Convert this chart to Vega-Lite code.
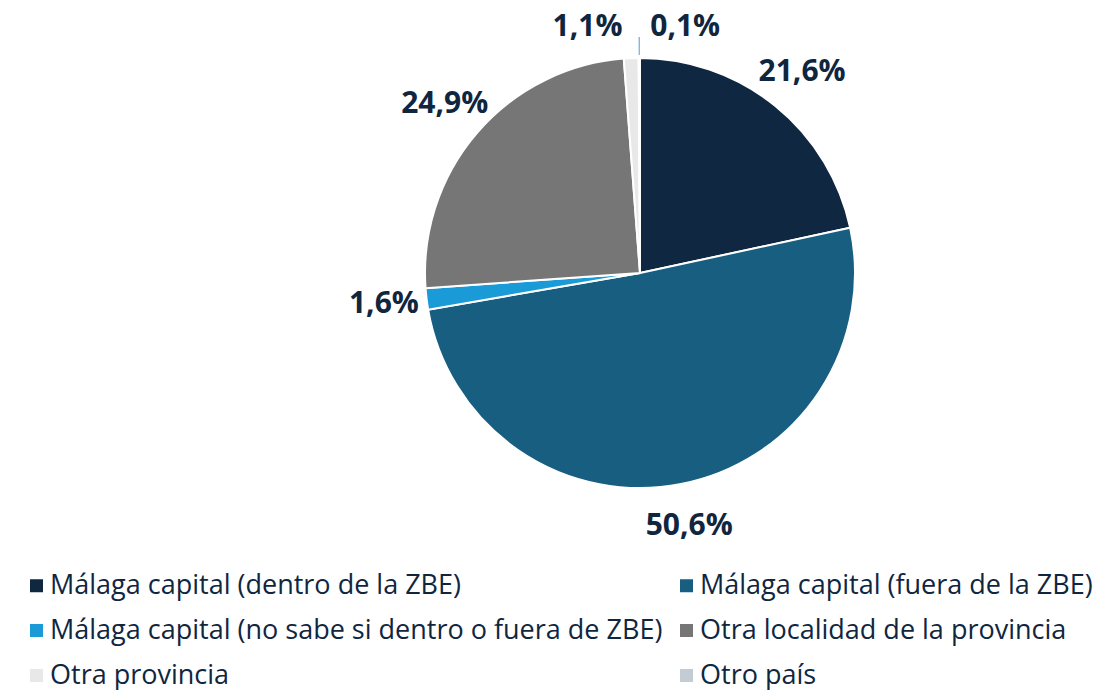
{
  "$schema": "https://vega.github.io/schema/vega-lite/v6.json",
  "width": 946,
  "height": 546,
  "autosize": {"type": "none"},
  "padding": {"left": 167, "top": 0, "right": 0, "bottom": 144},
  "background": "white",
  "view": {"stroke": null},
  "config": {"font": "Open Sans"},
  "data": {"values": [
    {"cat": "Málaga capital (dentro de la ZBE)", "pct": 21.6, "label": "21,6%", "order": 1},
    {"cat": "Málaga capital (fuera de la ZBE)", "pct": 50.6, "label": "50,6%", "order": 2},
    {"cat": "Málaga capital (no sabe si dentro o fuera de ZBE)", "pct": 1.6, "label": "1,6%", "order": 3},
    {"cat": "Otra localidad de la provincia", "pct": 24.9, "label": "24,9%", "order": 4},
    {"cat": "Otra provincia", "pct": 1.1, "label": "1,1%", "order": 5},
    {"cat": "Otro país", "pct": 0.1, "label": "0,1%", "order": 6}
  ]},
  "encoding": {
    "theta": {"field": "pct", "type": "quantitative", "stack": true},
    "order": {"field": "order", "type": "quantitative"}
  },
  "layer": [
    {
      "mark": {"type": "arc", "outerRadius": 215, "stroke": "white", "strokeWidth": 2},
      "encoding": {
        "color": {
          "field": "cat", "type": "nominal",
          "scale": {
            "domain": ["Málaga capital (dentro de la ZBE)", "Málaga capital (fuera de la ZBE)", "Málaga capital (no sabe si dentro o fuera de ZBE)", "Otra localidad de la provincia", "Otra provincia", "Otro país"],
            "range": ["#0f2741", "#175e81", "#1a9bd7", "#767676", "#e8e8e8", "#c3ccd4"]
          },
          "legend": {
            "title": null,
            "orient": "none",
            "legendX": -144,
            "legendY": 572,
            "direction": "horizontal",
            "columns": 2,
            "columnPadding": 10,
            "rowPadding": 17,
            "padding": 0,
            "symbolType": "square",
            "symbolSize": 169,
            "symbolStrokeWidth": 0,
            "labelFontSize": 27,
            "labelFont": "Open Sans",
            "labelColor": "#10263f",
            "labelLimit": 0,
            "labelOffset": 0
          }
        }
      }
    },
    {
      "mark": {"type": "arc", "innerRadius": 218, "outerRadius": 236, "stroke": null},
      "encoding": {
        "color": {"condition": {"test": "datum.cat === 'Otro país'", "value": "#8db3e2"}, "value": "transparent"}
      }
    },
    {
      "mark": {
        "type": "text",
        "radius": 258,
        "fontSize": 30,
        "fontWeight": "bold",
        "font": "Open Sans",
        "baseline": "middle",
        "align": "center",
        "dx": {"expr": "datum.cat === 'Otro país' ? 46 : (datum.cat === 'Otra provincia' ? -42 : 0)"},
        "dy": {"expr": "datum.cat === 'Otro país' || datum.cat === 'Otra provincia' ? 12 : 0"}
      },
      "encoding": {
        "text": {"field": "label"},
        "color": {"value": "#10263f"}
      }
    }
  ]
}
